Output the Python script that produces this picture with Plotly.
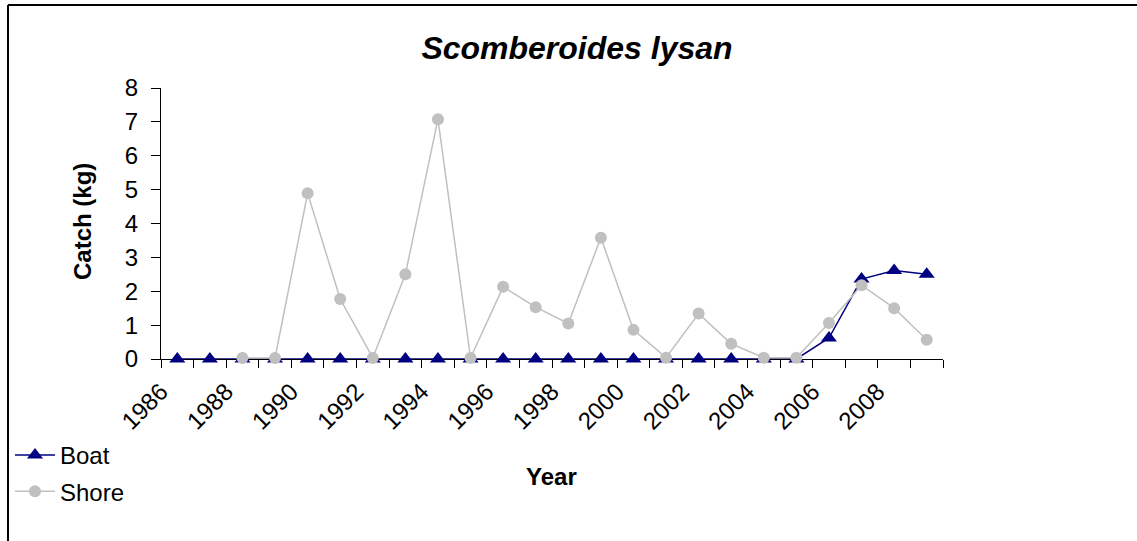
import plotly.graph_objects as go

years = list(range(1986, 2010))
boat = [0, 0, 0, 0, 0, 0, 0, 0, 0, 0, 0, 0, 0, 0, 0, 0, 0, 0, 0, 0,
        0.62, 2.36, 2.61, 2.50]
shore = [None, None, 0.03, 0.03, 4.89, 1.77, 0.03, 2.50, 7.08, 0.03,
         2.13, 1.53, 1.05, 3.58, 0.86, 0.04, 1.34, 0.45, 0.04, 0.04,
         1.06, 2.18, 1.50, 0.57]
label_years = list(range(1986, 2009, 2))
y_ticks = list(range(0, 9))

FONT = "Liberation Sans, Arial, sans-serif"
FS = 24

# plot-area geometry in pixels
W, H = 1137, 541
L, R, T, B = 161, 943, 88, 359
PW, PH = R - L, B - T

def px_x(p):
    return (p - L) / PW

def px_y(p):
    return (B - p) / PH

fig = go.Figure()
fig.add_trace(go.Scatter(
    x=years, y=boat, name="Boat", mode="lines+markers",
    line=dict(color="#000080", width=1.5),
    marker=dict(symbol="triangle-up", size=14, color="#000080"),
    cliponaxis=False, legendgroup="a",
))
fig.add_trace(go.Scatter(
    x=years, y=shore, name="Shore", mode="lines+markers",
    line=dict(color="#C0C0C0", width=1.5),
    marker=dict(symbol="circle", size=12, color="#C0C0C0"),
    cliponaxis=False, connectgaps=False, legendgroup="b",
))

fig.update_layout(
    width=W, height=H,
    margin=dict(l=L, r=W - R, t=T, b=H - B, pad=0, autoexpand=False),
    paper_bgcolor="white", plot_bgcolor="white",
    font=dict(family=FONT, size=FS, color="black"),
    title=dict(text="<b><i>Scomberoides lysan</i></b>", x=577 / W, xref="container",
               xanchor="center", y=1 - 48 / H, yref="container", yanchor="middle",
               font=dict(size=32, family=FONT, color="black")),
    showlegend=True,
    legend=dict(xref="paper", yref="paper", x=px_x(10), y=px_y(433),
                xanchor="left", yanchor="top", bgcolor="rgba(0,0,0,0)",
                font=dict(size=FS, family=FONT), tracegroupgap=2,
                itemwidth=40),
)

fig.update_xaxes(
    range=[1985.5, 2009.5], tickmode="array", automargin=False,
    tickvals=[y - 0.5 for y in label_years], ticktext=[str(y) for y in label_years],
    tickangle=-45, ticks="outside", ticklen=8, tickcolor="black",
    minor=dict(tickmode="linear", tick0=1985.5, dtick=1, ticks="outside",
               ticklen=8, tickcolor="black"),
    showline=True, linecolor="black", linewidth=1, showgrid=False, zeroline=False,
    layer="below traces", tickfont=dict(size=FS, family=FONT),
)
fig.update_yaxes(
    range=[0, 8], tickmode="array", tickvals=y_ticks, ticktext=[str(v) for v in y_ticks],
    automargin=False,
    ticks="outside", ticklen=9, tickcolor="black", ticklabelstandoff=8,
    showline=True, linecolor="black", linewidth=1, showgrid=False, zeroline=False,
    layer="below traces", tickfont=dict(size=FS, family=FONT),
)

fig.add_annotation(text="<b>Catch (kg)</b>", xref="paper", yref="paper",
                   x=px_x(82), y=px_y(222), textangle=-90, showarrow=False,
                   xanchor="center", yanchor="middle", font=dict(size=FS, family=FONT))
fig.add_annotation(text="<b>Year</b>", xref="paper", yref="paper",
                   x=px_x(551), y=px_y(476), showarrow=False,
                   xanchor="center", yanchor="middle", font=dict(size=FS, family=FONT))

# outer chart border (left and top edges visible)
fig.add_shape(type="line", xref="paper", yref="paper",
              x0=px_x(8), x1=px_x(8), y0=px_y(5), y1=px_y(560),
              line=dict(color="black", width=2))
fig.add_shape(type="line", xref="paper", yref="paper",
              x0=px_x(8), x1=px_x(1160), y0=px_y(5), y1=px_y(5),
              line=dict(color="black", width=2))

fig.write_html("out.html", config={"displayModeBar": False},
               post_script="document.body.style.margin='0';document.body.style.overflow='hidden';")
